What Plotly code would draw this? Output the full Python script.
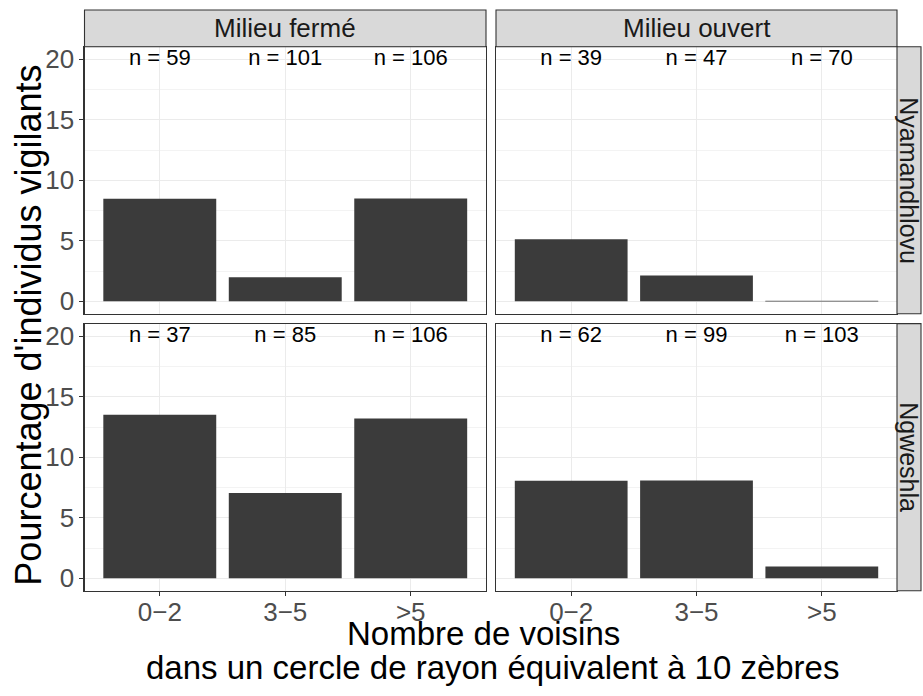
import plotly.graph_objects as go

categories = ["0\u22122", "3\u22125", ">5"]
milieux = ["Milieu fermé", "Milieu ouvert"]
sites = ["Nyamandhlovu", "Ngweshla"]

# percentage of vigilant individuals per panel (row = site, col = milieu)
pct_nyam_ferme = [8.47, 1.98, 8.49]
pct_nyam_ouvert = [5.13, 2.13, 0.0]
pct_ngwe_ferme = [13.51, 7.06, 13.21]
pct_ngwe_ouvert = [8.06, 8.08, 0.97]

n_nyam_ferme = [59, 101, 106]
n_nyam_ouvert = [39, 47, 70]
n_ngwe_ferme = [37, 85, 106]
n_ngwe_ouvert = [62, 99, 103]

label_y = 20
y_ticks = [0, 5, 10, 15, 20]

W, H = 923, 696
FONT = "Liberation Sans, Arial, Helvetica, sans-serif"
BORDER = "#333333"
GRID = "#EBEBEB"
BAR = "#3B3B3B"

# panel pixel boxes (window coordinates)
col_x = [(84.5, 486.0), (496.0, 897.0)]
row_y = [(45.0, 314.0), (324.0, 593.0)]

def px_x(v):
    return v / W

def px_y(v):
    return 1 - v / H

panels = [
    (0, 0, pct_nyam_ferme, n_nyam_ferme),
    (0, 1, pct_nyam_ouvert, n_nyam_ouvert),
    (1, 0, pct_ngwe_ferme, n_ngwe_ferme),
    (1, 1, pct_ngwe_ouvert, n_ngwe_ouvert),
]

fig = go.Figure()
layout = dict(
    width=W, height=H,
    margin=dict(l=0, r=0, t=0, b=0),
    paper_bgcolor="white", plot_bgcolor="white",
    showlegend=False,
    font=dict(family=FONT, color="#4D4D4D"),
    bargap=0.1,
)

for i, (r, c, vals, ns) in enumerate(panels):
    k = i + 1
    xa = "x" if k == 1 else f"x{k}"
    ya = "y" if k == 1 else f"y{k}"
    xname = "xaxis" if k == 1 else f"xaxis{k}"
    yname = "yaxis" if k == 1 else f"yaxis{k}"
    lw = [0.9 if v == 0 else 0 for v in vals]
    fig.add_trace(go.Bar(
        x=categories, y=vals, xaxis=xa, yaxis=ya,
        marker=dict(color=BAR, line=dict(color="#8A8A8A", width=lw)),
        width=0.9, hoverinfo="skip",
    ))
    fig.add_trace(go.Scatter(
        x=categories, y=[label_y] * 3, xaxis=xa, yaxis=ya,
        mode="text", text=[f"n = {n}" for n in ns],
        textposition="middle center",
        textfont=dict(family=FONT, size=22, color="black"),
        hoverinfo="skip",
    ))
    bottom = r == 1
    left = c == 0
    layout[xname] = dict(
        domain=[px_x(col_x[c][0]), px_x(col_x[c][1])],
        anchor=ya, type="category",
        categoryorder="array", categoryarray=categories,
        range=[-0.6, 2.6],
        showgrid=True, gridcolor=GRID, gridwidth=1.07,
        showline=True, mirror=True, linecolor=BORDER, linewidth=1.1,
        ticks="outside" if bottom else "", ticklen=4, tickwidth=1.1, tickcolor=BORDER,
        showticklabels=bottom, ticklabelstandoff=-6,
        tickfont=dict(family=FONT, size=26, color="#4D4D4D"),
        zeroline=False, fixedrange=True,
    )
    layout[yname] = dict(
        domain=[px_y(row_y[r][1]), px_y(row_y[r][0])],
        anchor=xa, range=[-1.03, 21.05],
        tickmode="array", tickvals=y_ticks,
        showgrid=True, gridcolor=GRID, gridwidth=1.07,
        minor=dict(tickvals=[2.5, 7.5, 12.5, 17.5], showgrid=True,
                   gridcolor=GRID, gridwidth=0.6),
        showline=True, mirror=True, linecolor=BORDER, linewidth=1.1,
        ticks="outside" if left else "", ticklen=4, tickwidth=1.1, tickcolor=BORDER,
        showticklabels=left,
        tickfont=dict(family=FONT, size=26, color="#4D4D4D"),
        zeroline=False, fixedrange=True,
    )

shapes = []
annotations = []
# top strips
for c, lab in enumerate(milieux):
    x0, x1 = col_x[c]
    shapes.append(dict(type="rect", xref="paper", yref="paper",
                       x0=px_x(x0), x1=px_x(x1), y0=px_y(45), y1=px_y(8),
                       fillcolor="#D9D9D9", line=dict(color=BORDER, width=1.1)))
    annotations.append(dict(xref="paper", yref="paper",
                            x=px_x((x0 + x1) / 2), y=px_y(26.5),
                            text=lab, showarrow=False,
                            font=dict(family=FONT, size=26, color="#1A1A1A"),
                            xanchor="center", yanchor="middle"))
# right strips
for r, lab in enumerate(sites):
    y0, y1 = row_y[r]
    shapes.append(dict(type="rect", xref="paper", yref="paper",
                       x0=px_x(897), x1=px_x(921), y0=px_y(y1), y1=px_y(y0),
                       fillcolor="#D9D9D9", line=dict(color=BORDER, width=1.1)))
    annotations.append(dict(xref="paper", yref="paper",
                            x=px_x(909), y=px_y((y0 + y1) / 2),
                            text=lab, showarrow=False, textangle=90,
                            font=dict(family=FONT, size=25, color="#1A1A1A"),
                            xanchor="center", yanchor="middle"))

# axis titles
annotations.append(dict(xref="paper", yref="paper",
                        x=px_x(29), y=px_y(326),
                        text="Pourcentage d'individus vigilants",
                        showarrow=False, textangle=-90,
                        font=dict(family=FONT, size=36, color="black"),
                        xanchor="center", yanchor="middle"))
annotations.append(dict(xref="paper", yref="paper",
                        x=px_x(483), y=px_y(636),
                        text="Nombre de voisins",
                        showarrow=False,
                        font=dict(family=FONT, size=33, color="black"),
                        xanchor="center", yanchor="middle"))
annotations.append(dict(xref="paper", yref="paper",
                        x=px_x(492), y=px_y(670),
                        text="dans un cercle de rayon équivalent à 10 zèbres",
                        showarrow=False,
                        font=dict(family=FONT, size=33, color="black"),
                        xanchor="center", yanchor="middle"))

layout["shapes"] = shapes
layout["annotations"] = annotations
fig.update_layout(**layout)
fig.write_html(
    "out.html",
    config={"displayModeBar": False, "staticPlot": True},
    post_script="document.body.style.margin='0';document.body.style.overflow='hidden';",
)
